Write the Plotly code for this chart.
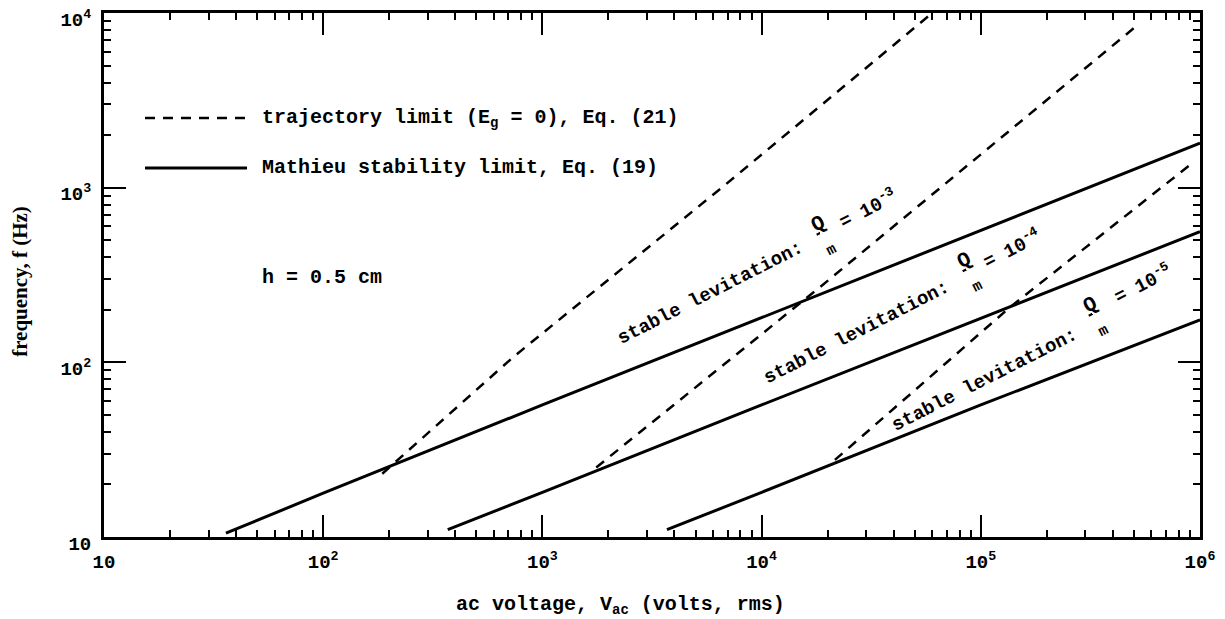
import plotly.graph_objects as go

# ---- data (volts rms, Hz) ----
qm_labels = ["10<sup>-3</sup>", "10<sup>-4</sup>", "10<sup>-5</sup>"]

# Mathieu stability limit, Eq. (19)  (solid)
mathieu_v_1e3 = [36, 100, 1000, 10000, 100000, 1000000]
mathieu_f_1e3 = [10.5, 17.8, 57, 180, 570, 1800]
mathieu_v_1e4 = [370, 1000, 10000, 100000, 1000000]
mathieu_f_1e4 = [11.0, 18, 57, 178, 560]
mathieu_v_1e5 = [3700, 10000, 100000, 1000000]
mathieu_f_1e5 = [11.0, 18, 57, 175]

# trajectory limit (Eg = 0), Eq. (21)  (dashed)
traj_v_1e3 = [186, 735, 6800, 60000]
traj_f_1e3 = [23, 107, 1035, 10000]
traj_v_1e4 = [1760, 18500, 505000]
traj_f_1e4 = [25, 270, 8300]
traj_v_1e5 = [21600, 136000, 900000]
traj_f_1e5 = [27.6, 207, 1350]

x_tickvals = [10, 100, 1000, 10000, 100000, 1000000]
x_ticktext = ["10", "10<sup>2</sup>", "10<sup>3</sup>", "10<sup>4</sup>", "10<sup>5</sup>", "10<sup>6</sup>"]
y_tickvals = [10, 100, 1000, 10000]
y_ticktext = ["10", "10<sup>2</sup>", "10<sup>3</sup>", "10<sup>4</sup>"]

x_minor = [m * 10 ** e for e in range(1, 6) for m in range(2, 10)]
y_minor = [m * 10 ** e for e in range(1, 4) for m in range(2, 10)]

MONO = "Liberation Mono"
INK = "black"

fig = go.Figure()

for v, f in [(mathieu_v_1e3, mathieu_f_1e3), (mathieu_v_1e4, mathieu_f_1e4), (mathieu_v_1e5, mathieu_f_1e5)]:
    fig.add_trace(go.Scatter(x=v, y=f, mode="lines", line=dict(color=INK, width=3),
                             showlegend=False, hoverinfo="skip"))
for v, f in [(traj_v_1e3, traj_f_1e3), (traj_v_1e4, traj_f_1e4), (traj_v_1e5, traj_f_1e5)]:
    fig.add_trace(go.Scatter(x=v, y=f, mode="lines", line=dict(color=INK, width=2.5, dash="10px,8px"),
                             showlegend=False, hoverinfo="skip"))

axis_common = dict(
    type="log", showgrid=False, zeroline=False, automargin=False,
    showline=True, linecolor=INK, linewidth=3, mirror="ticks",
    ticks="inside", ticklen=22, tickwidth=2, tickcolor=INK,
    ticklabeloverflow="allow",
    tickfont=dict(family=MONO, size=19, color=INK, weight="bold"),
)
fig.update_xaxes(**axis_common, range=[1, 6], tickvals=x_tickvals, ticktext=x_ticktext,
                 ticklabelstandoff=5,
                 minor=dict(tickvals=x_minor, ticks="inside", ticklen=7, tickwidth=2, tickcolor=INK))
fig.update_yaxes(**axis_common, range=[0.9995, 4.0005], tickvals=y_tickvals, ticktext=y_ticktext,
                 ticklabelstandoff=6, ticklabelshift=6,
                 minor=dict(tickvals=y_minor, ticks="inside", ticklen=7, tickwidth=2, tickcolor=INK))

ann = []
txt_font = dict(family=MONO, size=19, color=INK, weight="bold")
# rotated "stable levitation" labels: (text center, fraction center, exponent center) in log units
label_pos = [
    ((3.769, 2.395), (4.289, 2.725), (4.485, 2.880)),
    ((4.431, 2.170), (4.951, 2.515), (5.142, 2.650)),
    ((5.019, 1.900), (5.530, 2.262), (5.740, 2.450)),
]
for (t, q, e), lab in zip(label_pos, qm_labels):
    ann.append(dict(x=t[0], y=t[1], xref="x", yref="y", text="stable levitation:",
                    textangle=-27, showarrow=False, font=txt_font))
    ann.append(dict(x=q[0], y=q[1], xref="x", yref="y",
                    text="<u>Q</u><br><span style='font-size:15px'>m</span>",
                    textangle=-27, showarrow=False, font=dict(family=MONO, size=21, color=INK, weight="bold")))
    ann.append(dict(x=e[0], y=e[1], xref="x", yref="y", text="= " + lab,
                    textangle=-27, showarrow=False, font=txt_font))

leg_font = dict(family=MONO, size=20, color=INK, weight="bold")
ann += [
    dict(x=0.1423, y=0.7996, xref="paper", yref="paper", xanchor="left", yanchor="middle",
         text="trajectory limit (E<sub>g</sub> = 0), Eq. (21)", showarrow=False, font=leg_font),
    dict(x=0.1423, y=0.7042, xref="paper", yref="paper", xanchor="left", yanchor="middle",
         text="Mathieu stability limit, Eq. (19)", showarrow=False, font=leg_font),
    dict(x=0.1423, y=0.496, xref="paper", yref="paper", xanchor="left", yanchor="middle",
         text="h = 0.5 cm", showarrow=False, font=leg_font),
    dict(x=0.471, y=-0.13, xref="paper", yref="paper", xanchor="center", yanchor="middle",
         text="ac voltage, V<sub>ac</sub> (volts, rms)", showarrow=False,
         font=dict(family=MONO, size=20, color=INK, weight="bold")),
    dict(x=-0.0766, y=0.487, xref="paper", yref="paper", xanchor="center", yanchor="middle",
         text="frequency, f (Hz)", textangle=-90, showarrow=False,
         font=dict(family="Liberation Serif", size=21, color=INK, weight="bold")),
]

shapes = [
    dict(type="line", xref="paper", yref="paper", x0=0.0374, x1=0.1305, y0=0.7996, y1=0.7996,
         line=dict(color=INK, width=2.5, dash="10px,8px")),
    dict(type="line", xref="paper", yref="paper", x0=0.0374, x1=0.1305, y0=0.7042, y1=0.7042,
         line=dict(color=INK, width=3)),
]

# page body has an 8px default margin: size/margins compensate so the plot area
# lands at x 104..1200, y 13..537 of the 1225x619 window
fig.update_layout(
    width=1217, height=611,
    margin=dict(l=96, r=25, t=5, b=82),
    paper_bgcolor="white", plot_bgcolor="white",
    annotations=ann, shapes=shapes,
)

fig.write_html("out.html")
